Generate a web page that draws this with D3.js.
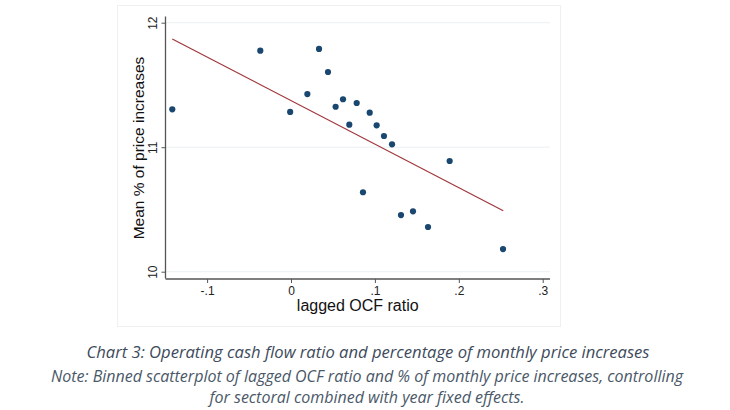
<!DOCTYPE html>
<html>
<head>
<meta charset="utf-8">
<script src="https://cdn.jsdelivr.net/npm/d3@7"></script>
<style>
  body { margin: 0; background: #fff; }
  svg { display: block; }
</style>
</head>
<body>
<script>
// binned scatter points
var ocfRatio = [-0.1415, -0.0366, -0.001, 0.0195, 0.0334, 0.0441, 0.0532, 0.062, 0.0695, 0.0783,
                0.0858, 0.0938, 0.1021, 0.1108, 0.1204, 0.1311, 0.1454, 0.1633, 0.1891, 0.2527];
var priceIncr = [11.304, 11.775, 11.283, 11.427, 11.789, 11.604, 11.325, 11.385, 11.181, 11.355,
                 10.638, 11.277, 11.176, 11.09, 11.023, 10.455, 10.485, 10.359, 10.889, 10.182];
// fitted line end points
var fitX = [-0.1415, 0.253];
var fitY = [11.869, 10.49];

var xTicks = [-0.1, 0, 0.1, 0.2, 0.3];
var xTickLabels = ["-.1", "0", ".1", ".2", ".3"];
var yTicks = [10, 11, 12];
var yTickLabels = ["10", "11", "12"];

var width = 730;
var height = 410;

var svg = d3.select("body").append("svg")
	.attr("width", width)
	.attr("height", height);

// light frame of the graph region
svg.append("rect")
	.attr("x", 117.5)
	.attr("y", 5.5)
	.attr("width", 443)
	.attr("height", 321)
	.attr("fill", "#fff")
	.attr("stroke", "#eef0f1")
	.attr("stroke-width", 1);

var x = d3.scaleLinear().domain([0, 0.3]).range([291, 542.7]);
var y = d3.scaleLinear().domain([10, 12]).range([271.7, 22.7]);

var plotLeft = 165.5, plotRight = 550, plotBottom = 279;

// gridlines
svg.selectAll("line.grid")
	.data(yTicks)
	.enter()
	.append("line")
	.attr("class", "grid")
	.attr("x1", plotLeft)
	.attr("x2", plotRight)
	.attr("y1", function(d) { return y(d); })
	.attr("y2", function(d) { return y(d); })
	.attr("stroke", "#eaf2f3")
	.attr("stroke-width", 1);

// x axis
var xAxis = d3.axisBottom(x)
	.tickValues(xTicks)
	.tickFormat(function(d, i) { return xTickLabels[i]; })
	.tickSize(4)
	.tickSizeOuter(0);

var gx = svg.append("g")
	.attr("transform", "translate(0," + plotBottom + ")")
	.call(xAxis);
gx.select(".domain").attr("d", "M" + plotLeft + ",0H" + plotRight);

// y axis
var yAxis = d3.axisLeft(y)
	.tickValues(yTicks)
	.tickFormat(function(d, i) { return yTickLabels[i]; })
	.tickSize(4)
	.tickSizeOuter(0);

var gy = svg.append("g")
	.attr("transform", "translate(" + plotLeft + ",0)")
	.call(yAxis);
gy.select(".domain").attr("d", "M0,16.5V" + (plotBottom - 0.5));

svg.selectAll(".domain").attr("stroke", "#555").attr("stroke-width", 1.3);
svg.selectAll(".tick line").attr("stroke", "#555");
svg.selectAll(".tick text")
	.attr("font-family", "Liberation Sans, Arial, sans-serif")
	.attr("font-size", "12px")
	.attr("fill", "#222");

gy.selectAll(".tick text")
	.attr("x", null)
	.attr("dy", null)
	.attr("text-anchor", "middle")
	.attr("transform", function() { return "translate(-9,0) rotate(-90)"; })
	.attr("y", 0);

// fit line
svg.append("line")
	.attr("x1", x(fitX[0]))
	.attr("y1", y(fitY[0]))
	.attr("x2", x(fitX[1]))
	.attr("y2", y(fitY[1]))
	.attr("stroke", "#a0373c")
	.attr("stroke-width", 1.2);

// points
svg.selectAll("circle")
	.data(ocfRatio)
	.enter()
	.append("circle")
	.attr("cx", function(d) { return x(d); })
	.attr("cy", function(d, i) { return y(priceIncr[i]); })
	.attr("r", 3.1)
	.attr("fill", "#1a476f");

// axis titles
svg.append("text")
	.text("lagged OCF ratio")
	.attr("x", (plotLeft + plotRight) / 2)
	.attr("y", 311)
	.attr("text-anchor", "middle")
	.attr("font-family", "Liberation Sans, Arial, sans-serif")
	.attr("font-size", "16px")
	.attr("fill", "#111");

svg.append("text")
	.text("Mean % of price increases")
	.attr("transform", "translate(144,148) rotate(-90)")
	.attr("text-anchor", "middle")
	.attr("font-family", "Liberation Sans, Arial, sans-serif")
	.attr("font-size", "15.5px")
	.attr("fill", "#111");

// caption
svg.append("text")
	.text("Chart 3: Operating cash flow ratio and percentage of monthly price increases")
	.attr("x", 368)
	.attr("y", 358)
	.attr("text-anchor", "middle")
	.attr("font-family", "Open Sans, sans-serif")
	.attr("font-style", "italic")
	.attr("font-size", "16.6px")
	.attr("fill", "#3d4b5c");

svg.append("text")
	.text("Note: Binned scatterplot of lagged OCF ratio and % of monthly price increases, controlling")
	.attr("x", 367)
	.attr("y", 382)
	.attr("text-anchor", "middle")
	.attr("font-family", "Open Sans, sans-serif")
	.attr("font-style", "italic")
	.attr("font-size", "16px")
	.attr("fill", "#4a5868");

svg.append("text")
	.text("for sectoral combined with year fixed effects.")
	.attr("x", 367)
	.attr("y", 403)
	.attr("text-anchor", "middle")
	.attr("font-family", "Open Sans, sans-serif")
	.attr("font-style", "italic")
	.attr("font-size", "16px")
	.attr("fill", "#4a5868");
</script>
</body>
</html>
